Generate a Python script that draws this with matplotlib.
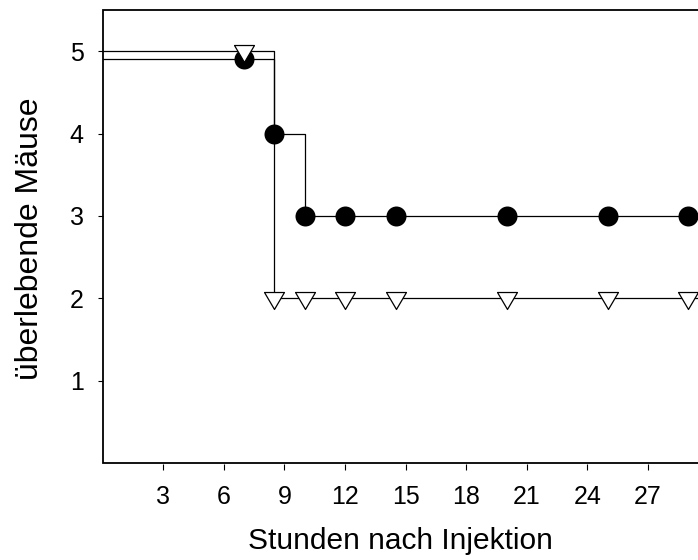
import matplotlib.pyplot as plt
from matplotlib.path import Path

# time points (hours) and surviving mice per group
hours = [0, 7, 8.5, 10, 12, 14.5, 20, 25, 29]
group_circle = [4.9, 4.9, 4, 3, 3, 3, 3, 3, 3]
group_triangle = [5, 5, 2, 2, 2, 2, 2, 2, 2]

x_ticks = [3, 6, 9, 12, 15, 18, 21, 24, 27]
y_ticks = [1, 2, 3, 4, 5]

plt.rcParams['font.family'] = ['Liberation Sans', 'DejaVu Sans']

fig = plt.figure(figsize=(6.98, 5.6), dpi=100)
ax = fig.add_axes([102.7 / 698, 97 / 560, 606 / 698, 453 / 560])

# downward triangle, a bit flatter than matplotlib's 'v'
tri = Path([(-1, 0.6), (1, 0.6), (0, -1.1), (-1, 0.6)],
           [Path.MOVETO, Path.LINETO, Path.LINETO, Path.CLOSEPOLY])

# step lines
ax.plot(hours, group_circle, drawstyle='steps-post', color='black', lw=0.9)
ax.plot(hours, group_triangle, drawstyle='steps-post', color='black', lw=0.9)
# lines keep running to the right edge
ax.plot([hours[-1], 31], [group_circle[-1]] * 2, color='black', lw=0.9)
ax.plot([hours[-1], 31], [group_triangle[-1]] * 2, color='black', lw=0.9)

# markers (first point is the start of the curve, no marker)
ax.plot(hours[1:], group_circle[1:], 'o', color='black', ms=14.4,
        markeredgewidth=0, linestyle='none')
ax.plot(hours[1:], group_triangle[1:], marker=tri, markerfacecolor='white',
        markeredgecolor='black', ms=15.8, markeredgewidth=0.9, linestyle='none')

ax.set_xlim(0, 30)
ax.set_ylim(0, 5.5)
ax.set_xticks(x_ticks)
ax.set_yticks(y_ticks)

# frame drawn by the axes patch, x ticks sit just below it
for s in ax.spines.values():
    s.set_visible(False)
ax.spines['bottom'].set_position(('outward', 1))
ax.patch.set_edgecolor('black')
ax.patch.set_linewidth(1.3)

ax.tick_params(axis='both', direction='out', labelsize=18, width=0.8, colors='black')
ax.tick_params(axis='x', length=4.5, pad=10)
ax.tick_params(axis='y', length=3.6, pad=10)

ax.set_xlabel('Stunden nach Injektion', fontsize=21.5)
ax.set_ylabel('überlebende Mäuse', fontsize=23)
ax.xaxis.set_label_coords((400 - 102.7) / 606, (464 - 528) / 453)
ax.yaxis.set_label_coords((45 - 102.7) / 606, (464 - 240) / 453)

fig.savefig('out.png', dpi=100)
